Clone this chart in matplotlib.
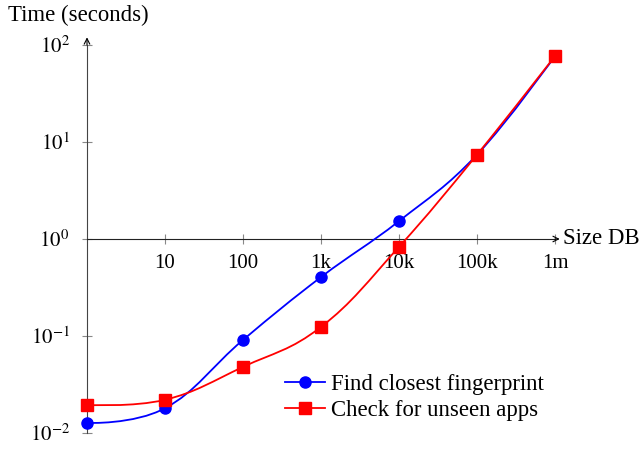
import numpy as np
import matplotlib.pyplot as plt
from matplotlib.path import Path
from matplotlib.patches import PathPatch
from matplotlib.lines import Line2D

plt.rcParams['font.family'] = ['Liberation Serif', 'DejaVu Serif']
plt.rcParams['mathtext.fontset'] = 'stix'

# data
size_db = [1, 10, 100, 1e3, 1e4, 1e5, 1e6]
find_closest = [0.0127, 0.018, 0.091, 0.405, 1.53, 7.4, 77]
check_unseen = [0.0195, 0.022, 0.048, 0.124, 0.83, 7.4, 77]
x_ticks = [10, 100, 1e3, 1e4, 1e5, 1e6]
x_labels = ['10', '100', '1k', '10k', '100k', '1m']
y_ticks = [1e-2, 1e-1, 1, 10, 100]
y_labels = [r'$10^{-2}$', r'$10^{-1}$', r'$10^{0}$', r'$10^{1}$', r'$10^{2}$']


def smooth_path(xs, ys, tension=0.2):
    # bezier through the points, control points built in log space
    lx = np.log10(xs)
    ly = np.log10(ys)
    pts = np.column_stack([lx, ly])
    n = len(pts)
    verts = [pts[0]]
    codes = [Path.MOVETO]
    for i in range(n - 1):
        p0 = pts[i - 1] if i > 0 else pts[i]
        p1 = pts[i]
        p2 = pts[i + 1]
        p3 = pts[i + 2] if i + 2 < n else pts[i + 1]
        c1 = p1 + tension * (p2 - p0) if i > 0 else p1
        c2 = p2 - tension * (p3 - p1) if i + 2 < n else p2
        verts += [c1, c2, p2]
        codes += [Path.CURVE4] * 3
    verts = 10 ** np.array(verts)
    return Path(verts, codes)


fig = plt.figure(figsize=(6.41, 4.49), dpi=100)
ax = fig.add_axes([87 / 641, 16 / 449, 468 / 641, 388 / 449])
ax.set_xscale('log')
ax.set_yscale('log')
ax.set_xlim(1, 1e6)
ax.set_ylim(1e-2, 1e2)

for s in ['top', 'right']:
    ax.spines[s].set_visible(False)
ax.spines['bottom'].set_position(('data', 1))
ax.spines['left'].set_position(('data', 1))
ax.spines['bottom'].set_color('#222222')
ax.spines['left'].set_color('#444444')
ax.spines['bottom'].set_linewidth(0.8)
ax.spines['left'].set_linewidth(0.8)

ax.set_xticks(x_ticks)
ax.set_xticklabels(x_labels)
ax.set_yticks(y_ticks)
ax.set_yticklabels(y_labels)
ax.minorticks_off()
ax.tick_params(axis='x', direction='inout', length=7, color='#888888', width=0.8,
               labelsize=15, pad=7)
ax.tick_params(axis='y', direction='inout', length=7, color='#888888', width=0.8,
               labelsize=15, pad=9)

# axis arrows
ax.annotate('', xy=(1.15e6, 1), xytext=(1e6, 1),
            arrowprops=dict(arrowstyle='->', color='black', lw=0.8, shrinkA=0, shrinkB=0),
            annotation_clip=False)
ax.annotate('', xy=(1, 1.2e2), xytext=(1, 1e2),
            arrowprops=dict(arrowstyle='->', color='black', lw=0.8, shrinkA=0, shrinkB=0),
            annotation_clip=False)

ax.add_patch(PathPatch(smooth_path(size_db, find_closest), fill=False,
                       edgecolor='blue', lw=1.3, clip_on=False, zorder=3))
ax.add_patch(PathPatch(smooth_path(size_db, check_unseen), fill=False,
                       edgecolor='red', lw=1.3, clip_on=False, zorder=3))
ax.plot(size_db, find_closest, ls='none', marker='o', color='blue', ms=8,
        clip_on=False, zorder=4)
ax.plot(size_db, check_unseen, ls='none', marker='s', color='red', ms=8,
        clip_on=False, zorder=5)

fig.text(8 / 641, 1 - 15 / 449, 'Time (seconds)', fontsize=16.4, va='center', ha='left')
ax.text(1.25e6, 1, 'Size DB', fontsize=16.4, va='center', ha='left')

handles = [Line2D([], [], color='blue', marker='o', lw=1.3, ms=8),
           Line2D([], [], color='red', marker='s', lw=1.3, ms=8)]
fig.legend(handles, ['Find closest fingerprint', 'Check for unseen apps'],
           loc='upper left', bbox_to_anchor=(285 / 641, 1 - 374 / 449),
           frameon=False, fontsize=16.4, handlelength=1.75, handletextpad=0.25,
           labelspacing=0.2, borderpad=0, borderaxespad=0)

fig.savefig('out.png', dpi=100)
